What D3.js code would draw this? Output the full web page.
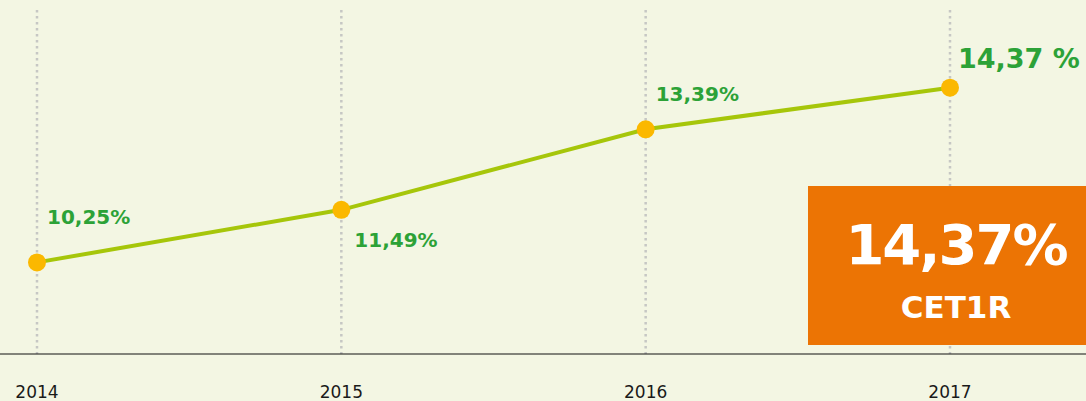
<!DOCTYPE html>
<html>
<head>
<meta charset="utf-8">
<script src="https://cdn.jsdelivr.net/npm/d3@7"></script>
<style>
  body { margin: 0; background: #f3f6e3; }
  svg { display: block; }
</style>
</head>
<body>
<div id="chart"></div>
<script>
var width = 1086,
    height = 401;

var years = ["2014", "2015", "2016", "2017"];
var values = [10.25, 11.49, 13.39, 14.37];
var labels = ["10,25%", "11,49%", "13,39%", "14,37 %"];
var boxValue = "14,37%";
var boxTitle = "CET1R";

var svg = d3.select("#chart")
            .append("svg")
            .attr("width", width)
            .attr("height", height);

svg.append("rect")
   .attr("width", width)
   .attr("height", height)
   .attr("fill", "#f3f6e3");

var x = d3.scalePoint()
          .domain(years)
          .range([37, 950]);

var y = d3.scaleLinear()
          .domain([10, 15])
          .range([273, 61]);

var baseY = 354;

// dotted gridlines
years.forEach(function (d) {
  svg.append("line")
     .attr("x1", x(d))
     .attr("x2", x(d))
     .attr("y1", 10)
     .attr("y2", baseY)
     .attr("stroke", "#c6c7c4")
     .attr("stroke-width", 2.5)
     .attr("stroke-dasharray", "2.5,3.5");
});

// orange box
svg.append("rect")
   .attr("x", 808)
   .attr("y", 186)
   .attr("width", 278)
   .attr("height", 159)
   .attr("fill", "#ec7404");

svg.append("text")
   .attr("x", 956)
   .attr("y", 264)
   .attr("text-anchor", "middle")
   .attr("fill", "#fff")
   .style("font-family", "DejaVu Sans")
   .style("font-weight", 700)
   .style("font-size", "56px")
   .style("letter-spacing", "-2px")
   .text(boxValue);

svg.append("text")
   .attr("x", 956)
   .attr("y", 318)
   .attr("text-anchor", "middle")
   .attr("fill", "#fff")
   .style("font-family", "DejaVu Sans")
   .style("font-weight", 700)
   .style("font-size", "31px")
   .text(boxTitle);

// baseline
svg.append("line")
   .attr("x1", 0)
   .attr("x2", width)
   .attr("y1", baseY)
   .attr("y2", baseY)
   .attr("stroke", "#111")
   .attr("stroke-width", 1);

// year labels
years.forEach(function (d) {
  svg.append("text")
     .attr("x", x(d))
     .attr("y", 398)
     .attr("text-anchor", "middle")
     .attr("fill", "#1a1a1a")
     .style("font-family", "DejaVu Sans")
     .style("font-size", "17px")
     .text(d);
});

var data = years.map(function (d, i) {
  return { year: d, value: values[i], label: labels[i] };
});

var line = d3.line()
             .x(function (d) { return x(d.year); })
             .y(function (d) { return y(d.value); });

svg.append("path")
   .datum(data)
   .attr("d", line)
   .attr("fill", "none")
   .attr("stroke", "#a6c60a")
   .attr("stroke-width", 4);

svg.selectAll(".dot")
   .data(data)
   .enter()
   .append("circle")
   .attr("cx", function (d) { return x(d.year); })
   .attr("cy", function (d) { return y(d.value); })
   .attr("r", 9)
   .attr("fill", "#fbb800");

// value labels: above or below the point
var offsets = [
  { dx: 10, dy: -38, size: 20 },
  { dx: 13, dy: 37, size: 20 },
  { dx: 10, dy: -28, size: 20 },
  { dx: 8, dy: -20, size: 27 }
];

data.forEach(function (d, i) {
  svg.append("text")
     .attr("x", x(d.year) + offsets[i].dx)
     .attr("y", y(d.value) + offsets[i].dy)
     .attr("fill", "#2ca237")
     .style("font-family", "DejaVu Sans")
     .style("font-weight", 700)
     .style("font-size", offsets[i].size + "px")
     .text(d.label);
});
</script>
</body>
</html>
